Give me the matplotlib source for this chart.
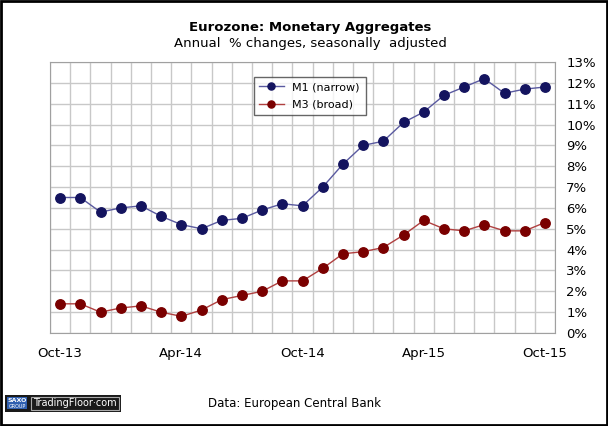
import matplotlib
matplotlib.use("Agg")
import matplotlib.pyplot as plt
from matplotlib.patches import Rectangle
import numpy as np

months = ["Oct-13","Nov-13","Dec-13","Jan-14","Feb-14","Mar-14","Apr-14","May-14","Jun-14",
          "Jul-14","Aug-14","Sep-14","Oct-14","Nov-14","Dec-14","Jan-15","Feb-15","Mar-15",
          "Apr-15","May-15","Jun-15","Jul-15","Aug-15","Sep-15","Oct-15"]
m1 = [6.5, 6.5, 5.8, 6.0, 6.1, 5.6, 5.2, 5.0, 5.4, 5.5, 5.9, 6.2, 6.1,
      7.0, 8.1, 9.0, 9.2, 10.1, 10.6, 11.4, 11.8, 12.2, 11.5, 11.7, 11.8]
m3 = [1.4, 1.4, 1.0, 1.2, 1.3, 1.0, 0.8, 1.1, 1.6, 1.8, 2.0, 2.5, 2.5,
      3.1, 3.8, 3.9, 4.1, 4.7, 5.4, 5.0, 4.9, 5.2, 4.9, 4.9, 5.3]
xtick_labels = ["Oct-13", "Apr-14", "Oct-14", "Apr-15", "Oct-15"]
ytick_vals = list(range(0, 14))

plt.rcParams['font.family'] = ['DejaVu Sans']

fig = plt.figure(figsize=(6.08, 4.26), dpi=100)
ax = fig.add_axes([50/608, (426-333)/426, 505/608, 271/426])

x = np.arange(len(months))
ax.plot(x, m1, color="#5a5aa0", lw=1.0, marker="o", ms=6.8,
        mfc="#14145f", mec="#14145f", label="M1 (narrow)")
ax.plot(x, m3, color="#b04040", lw=1.0, marker="o", ms=6.8,
        mfc="#7a0000", mec="#7a0000", label="M3 (broad)")

ax.set_xlim(-0.5, len(months) - 0.5)
ax.set_ylim(0, 13)
ax.set_xticks(np.arange(-0.5, len(months), 1), minor=False)
ax.set_xticklabels([])
ax.tick_params(axis='x', length=0)
ax.set_xticks([months.index(m) for m in xtick_labels], minor=True)
ax.set_xticklabels(xtick_labels, minor=True, fontsize=9.5)
ax.tick_params(axis='x', which='minor', length=0, pad=10)
ax.yaxis.tick_right()
ax.set_yticks(ytick_vals)
ax.set_yticklabels([f"{v}%" for v in ytick_vals], fontsize=9.5)
ax.tick_params(axis='y', length=0, pad=8)
ax.grid(True, which='major', color="#c8c8c8", lw=1.0)
ax.set_axisbelow(True)
for s in ax.spines.values():
    s.set_color("#a0a0a0")

leg = ax.legend(loc="upper left", bbox_to_anchor=((248-50)/505, (333-71)/271),
                fontsize=8, frameon=True, fancybox=False, edgecolor="#404040",
                handlelength=2.2, borderpad=0.5, labelspacing=0.7, markerscale=0.75)
leg.get_frame().set_linewidth(1.0)

fig.text(310/608, 1-27/426, "Eurozone: Monetary Aggregates", ha="center", va="center",
         fontsize=9.5, fontweight="bold")
fig.text(310/608, 1-43/426, "Annual  % changes, seasonally  adjusted", ha="center", va="center",
         fontsize=9.5)
fig.text(208/608, 1-403/426, "Data: European Central Bank", ha="left", va="center", fontsize=8.5)

# logo
fig.add_artist(Rectangle((5/608, 1-412/426), 116/608, 17/426, transform=fig.transFigure,
                         facecolor="#1a1a1a", edgecolor="none"))
fig.add_artist(Rectangle((7/608, 1-409/426), 20/608, 12/426, transform=fig.transFigure,
                         facecolor="#3060b0", edgecolor="none"))
fig.text(17/608, 1-400/426, "SAXO", color="white", fontsize=4.5, ha="center", va="center", fontweight="bold")
fig.text(17/608, 1-406/426, "GROUP", color="white", fontsize=3.5, ha="center", va="center")
fig.add_artist(Rectangle((31/608, 1-410/426), 88/608, 13/426, transform=fig.transFigure,
                         facecolor="none", edgecolor="#aaaaaa", lw=0.8))
fig.text(75/608, 1-403/426, "TradingFloor·com", color="white", fontsize=7, ha="center", va="center")

# outer border
fig.add_artist(Rectangle((0.002, 0.002), 0.996, 0.996, transform=fig.transFigure,
                         facecolor="none", edgecolor="black", lw=2))

fig.savefig("out.png", dpi=100)
